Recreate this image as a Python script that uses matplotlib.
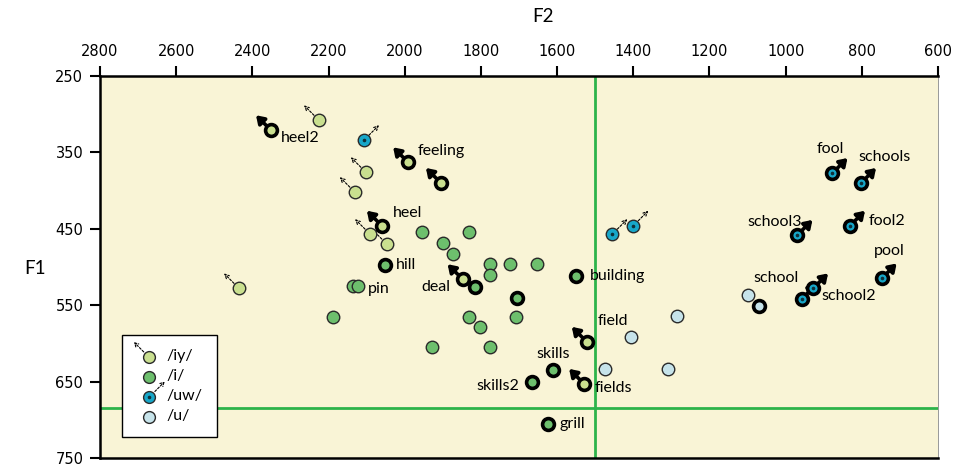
import numpy as np
import matplotlib
matplotlib.use('Agg')
import matplotlib.pyplot as plt
from matplotlib.transforms import offset_copy
from matplotlib.lines import Line2D
from matplotlib.patches import FancyArrowPatch
from matplotlib.legend_handler import HandlerBase

plt.rcParams['font.family'] = ['Lato', 'DejaVu Sans']

# /iy/ tokens (thin = unlabelled, bold = labelled words)
iy_f2 = [2225, 2102, 2131, 2091, 2047, 2435]
iy_f1 = [308, 376, 402, 457, 470, 528]
iy_bold_f2 = [2351, 1991, 1905, 2060, 1848, 1522, 1529]
iy_bold_f1 = [321, 363, 390, 446, 516, 598, 653]

# /i/ tokens
i_f2 = [1954, 1831, 1899, 1873, 1776, 1724, 1654, 1776, 2137, 2122, 2189, 1831, 1802, 1709, 1928, 1776]
i_f1 = [454, 454, 468, 483, 496, 496, 496, 511, 525, 525, 565, 565, 578, 565, 605, 605]
i_bold_f2 = [2052, 1816, 1706, 1551, 1610, 1665, 1625]
i_bold_f1 = [498, 526, 540, 512, 635, 651, 706]

# /uw/ tokens
uw_f2 = [2107, 1455, 1400]
uw_f1 = [334, 457, 446]
uw_bold_f2 = [877, 802, 969, 831, 748, 928, 958]
uw_bold_f1 = [377, 390, 458, 446, 515, 528, 542]

# /u/ tokens
u_f2 = [1284, 1406, 1473, 1310, 1100]
u_f1 = [564, 591, 633, 633, 537]
u_bold_f2 = [1069]
u_bold_f1 = [551]

# word labels and the token they belong to
words = ['heel2', 'feeling', 'heel', 'deal', 'field', 'fields',
         'hill', 'pin', 'building', 'skills', 'skills2', 'grill',
         'fool', 'schools', 'school3', 'fool2', 'pool', 'school2', 'school']
word_f2 = [2351, 1991, 2060, 1848, 1522, 1529,
           2052, 2137, 1551, 1610, 1665, 1625,
           877, 802, 969, 831, 748, 958, 1069]
word_f1 = [321, 363, 446, 516, 598, 653,
           498, 525, 512, 635, 651, 706,
           377, 390, 458, 446, 515, 542, 551]

vline_f2 = 1500
hline_f1 = 685

# label offsets in pixels (dx, dy, ha)
label_pos = {
    'heel2': (10, -8, 'left'), 'feeling': (10, 11, 'left'), 'heel': (11, 13, 'left'),
    'deal': (-12, -8, 'right'), 'field': (11, 21, 'left'), 'fields': (11, -4, 'left'),
    'hill': (11, 0, 'left'), 'pin': (15, -3, 'left'), 'building': (14, 0, 'left'),
    'skills': (0, 16, 'center'), 'skills2': (-13, -4, 'right'), 'grill': (12, 0, 'left'),
    'fool': (-2, 24, 'center'), 'schools': (23, 26, 'center'), 'school3': (-23, 13, 'center'),
    'fool2': (19, 5, 'left'), 'pool': (8, 27, 'center'), 'school2': (20, 3, 'left'),
    'school': (17, 28, 'center'),
}

bg = '#f9f4d6'
c_iy = '#c9df8f'
c_i = '#6dbf6d'
c_uw = '#17a7c9'
c_u = '#c6e3ea'
c_line = '#2db34a'

fig = plt.figure(figsize=(9.56, 4.68), dpi=100)
ax = fig.add_axes([100 / 956, 1 - 458 / 468, 838 / 956, 382 / 468])
ax.set_facecolor(bg)
ax.set_xlim(2800, 600)
ax.set_ylim(750, 250)

ax.axvline(vline_f2, color=c_line, lw=2, zorder=1)
ax.axhline(hline_f1, color=c_line, lw=2, zorder=1)


def arrows(xs, ys, sx, bold):
    for x, y in zip(xs, ys):
        t0 = offset_copy(ax.transData, fig=fig, x=sx * 5, y=5, units='dots')
        t1 = offset_copy(ax.transData, fig=fig, x=sx * 15, y=15, units='dots')
        if bold:
            ax.annotate('', xy=(x, y), xycoords=t1, xytext=(x, y), textcoords=t0,
                        arrowprops=dict(arrowstyle='-|>,head_length=0.45,head_width=0.3',
                                        lw=2.6, color='black', shrinkA=0, shrinkB=0),
                        zorder=2)
        else:
            ax.annotate('', xy=(x, y), xycoords=t1, xytext=(x, y), textcoords=t0,
                        arrowprops=dict(arrowstyle='->,head_length=0.3,head_width=0.15',
                                        lw=0.8, ls=(0, (2, 1.5)), color='black',
                                        shrinkA=0, shrinkB=0),
                        zorder=2)


arrows(iy_f2, iy_f1, -1, False)
arrows(iy_bold_f2, iy_bold_f1, -1, True)
arrows(uw_f2, uw_f1, 1, False)
arrows(uw_bold_f2, uw_bold_f1, 1, True)

thin = dict(ls='none', marker='o', ms=9, mec='#2a2a2a', mew=1.0, zorder=3)
bold = dict(ls='none', marker='o', ms=8.5, mec='black', mew=2.6, zorder=4)
ax.plot(iy_f2, iy_f1, mfc=c_iy, **thin)
ax.plot(i_f2, i_f1, mfc=c_i, **thin)
ax.plot(uw_f2, uw_f1, mfc=c_uw, **thin)
ax.plot(u_f2, u_f1, mfc=c_u, **thin)
ax.plot(iy_bold_f2, iy_bold_f1, mfc=c_iy, **bold)
ax.plot(i_bold_f2, i_bold_f1, mfc=c_i, **bold)
ax.plot(uw_bold_f2, uw_bold_f1, mfc=c_uw, **bold)
ax.plot(u_bold_f2, u_bold_f1, mfc=c_u, **bold)
ax.plot(uw_f2 + uw_bold_f2, uw_f1 + uw_bold_f1, ls='none', marker='o', ms=1.6,
        color='#10303a', zorder=5)

for w, x, y in zip(words, word_f2, word_f1):
    dx, dy, ha = label_pos[w]
    ax.annotate(w, (x, y), xytext=(dx, dy), textcoords='offset pixels',
                ha=ha, va='center', fontsize=11.5, zorder=6)

# axes styling
ax.xaxis.tick_top()
ax.xaxis.set_label_position('top')
ax.set_xticks(np.arange(2800, 599, -200))
ax.set_yticks(np.arange(250, 751, 100))
ax.tick_params(direction='out', length=7, width=1.5, labelsize=10.5, pad=5)
for lab in ax.get_xticklabels() + ax.get_yticklabels():
    lab.set_family(['Liberation Sans Narrow', 'DejaVu Sans'])
for s in ['left', 'top', 'bottom']:
    ax.spines[s].set_linewidth(1.8)
    ax.spines[s].set_color('black')
ax.spines['right'].set_linewidth(0.6)
ax.spines['right'].set_color('#888888')
ax.set_xlabel('F2', fontsize=13.5)
ax.set_ylabel('F1', fontsize=13.5, rotation=0, va='center', ha='center')
ax.xaxis.set_label_coords(0.529, 1.141)
ax.yaxis.set_label_coords(-0.078, 0.497)


class MarkerArrow(HandlerBase):
    def __init__(self, color, sx=0):
        super().__init__()
        self.color = color
        self.sx = sx

    def create_artists(self, legend, orig_handle, xdescent, ydescent, width,
                       height, fontsize, trans):
        cx = width / 2 - xdescent + 2
        cy = height / 2 - ydescent - 2
        m = Line2D([cx], [cy], ls='none', marker='o', ms=8.5, mfc=self.color,
                   mec='#2a2a2a', mew=1.0)
        m.set_transform(trans)
        arts = [m]
        if self.sx:
            a = FancyArrowPatch((cx + self.sx * 4, cy + 4), (cx + self.sx * 11, cy + 11),
                                arrowstyle='->,head_length=2.5,head_width=1.5',
                                lw=0.8, ls=(0, (2, 1.5)), color='black',
                                shrinkA=0, shrinkB=0)
            a.set_transform(trans)
            arts.append(a)
        if self.color == c_uw:
            d = Line2D([cx], [cy], ls='none', marker='o', ms=1.6, color='#10303a')
            d.set_transform(trans)
            arts.append(d)
        return arts


hs = [Line2D([], []) for _ in range(4)]
leg = ax.legend(hs, ['/iy/', '/i/', '/uw/', '/u/'],
                handler_map={hs[0]: MarkerArrow(c_iy, -1), hs[1]: MarkerArrow(c_i),
                             hs[2]: MarkerArrow(c_uw, 1), hs[3]: MarkerArrow(c_u)},
                loc='lower left', bbox_to_anchor=(0.026, 0.055), fontsize=11.5,
                frameon=True, fancybox=False, edgecolor='black', framealpha=1,
                handlelength=1.3, labelspacing=0.35, borderpad=0.9, handletextpad=0.6,
                borderaxespad=0)
leg.get_frame().set_linewidth(1.0)
leg.set_zorder(10)

fig.savefig('out.png', dpi=100)
